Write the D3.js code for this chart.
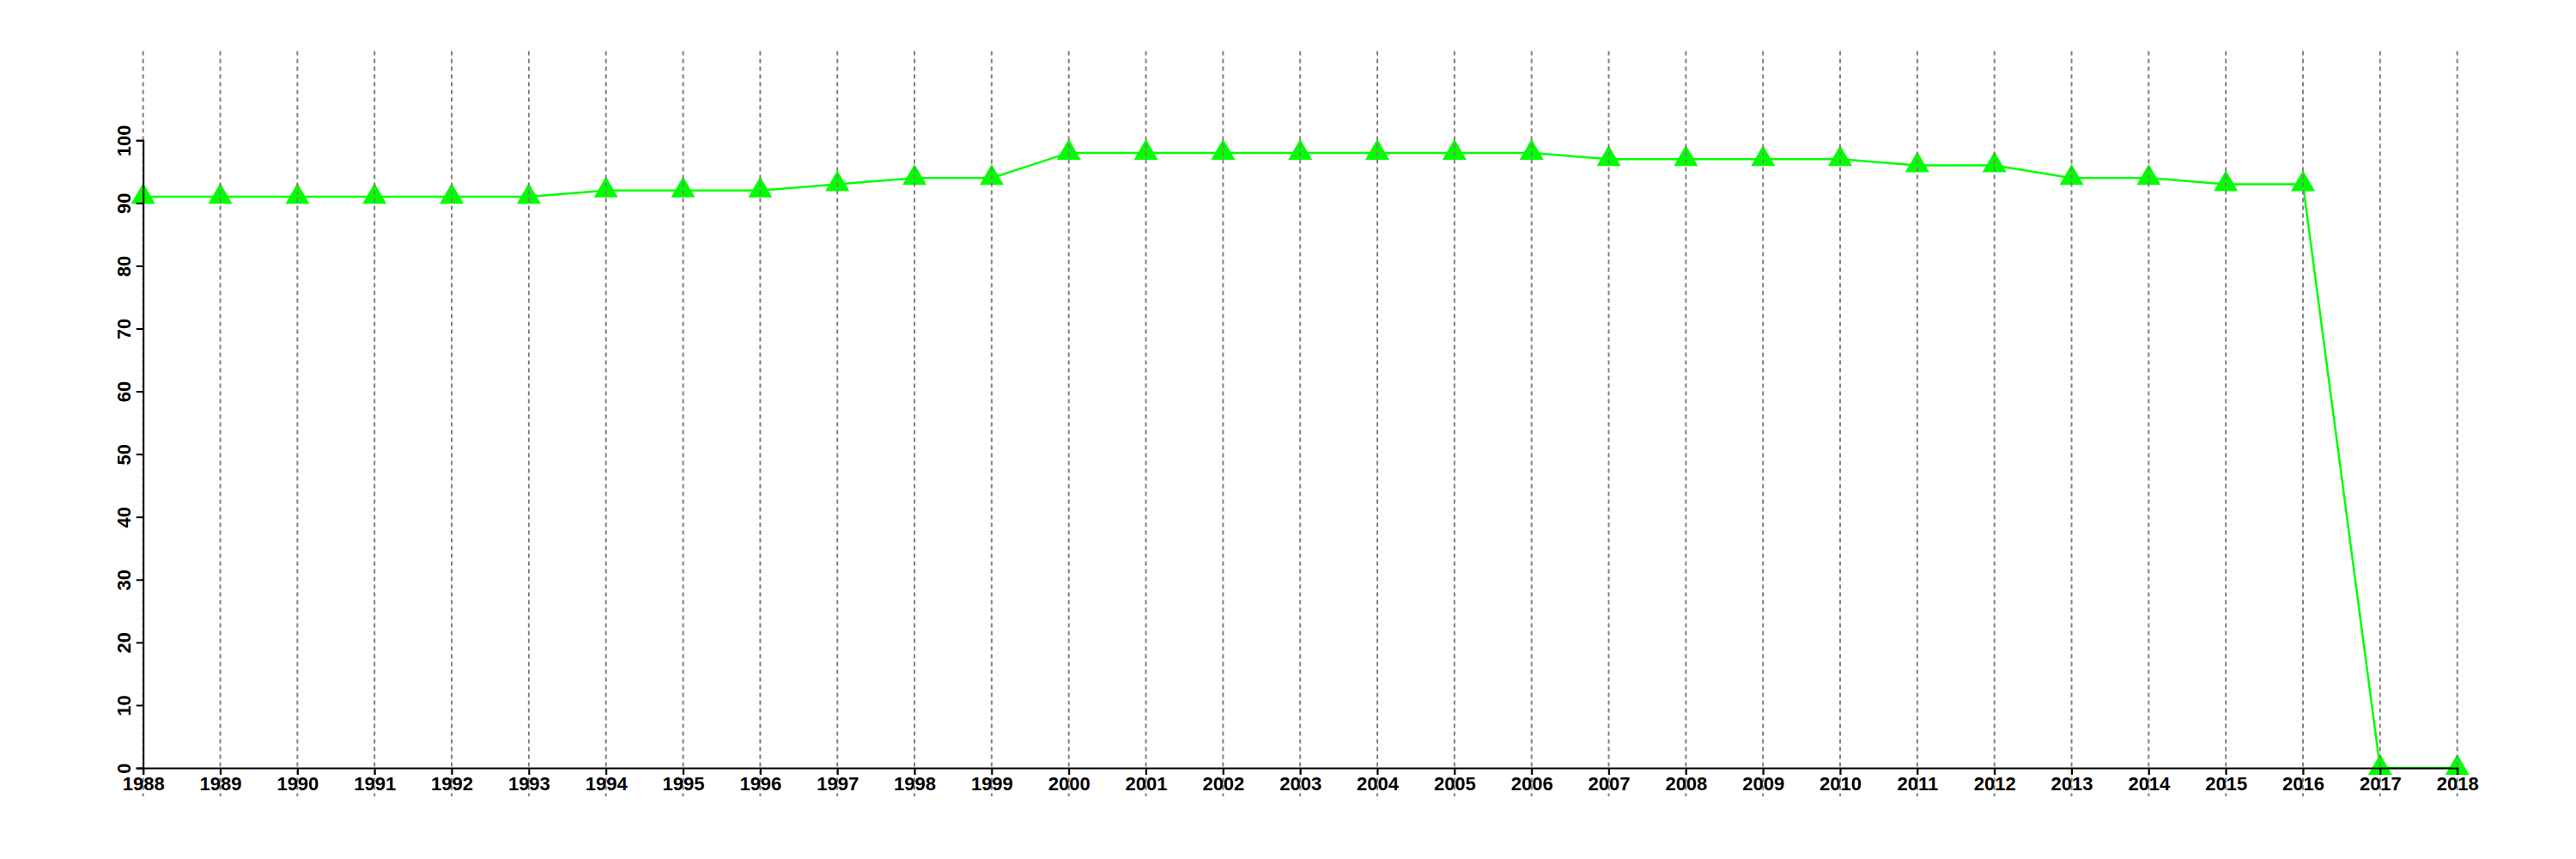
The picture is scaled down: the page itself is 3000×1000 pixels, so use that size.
<!DOCTYPE html>
<html>
<head>
<meta charset="utf-8">
<script src="https://cdn.jsdelivr.net/npm/d3@7"></script>
<style>
  html, body { margin: 0; padding: 0; background: #fff; }
  svg { display: block; }
  text { font-family: "Liberation Sans", Arial, Helvetica, sans-serif; font-weight: bold; font-size: 22px; fill: #000; }
</style>
</head>
<body>
<svg id="chart" width="3000" height="1000"></svg>
<script>
const years = [1988,1989,1990,1991,1992,1993,1994,1995,1996,1997,1998,1999,2000,2001,2002,2003,2004,2005,2006,2007,2008,2009,2010,2011,2012,2013,2014,2015,2016,2017,2018];
const values = [91,91,91,91,91,91,92,92,92,93,94,94,98,98,98,98,98,98,98,97,97,97,97,96,96,94,94,93,93,0,0];
const yTicks = [0,10,20,30,40,50,60,70,80,90,100];

const svg = d3.select("#chart");
const x = d3.scaleLinear().domain([1988, 2018]).range([166.7, 2861.7]);
const y = d3.scaleLinear().domain([0, 100]).range([894, 163.3]);

const data = years.map((yr, i) => ({ year: yr, value: values[i] }));

// line
svg.append("path")
  .datum(data)
  .attr("fill", "none")
  .attr("stroke", "#00ff00")
  .attr("stroke-width", 2.5)
  .attr("d", d3.line().x(d => x(d.year)).y(d => y(d.value)));

// markers
svg.append("g").selectAll("path")
  .data(data)
  .join("path")
  .attr("transform", d => `translate(${x(d.year)},${y(d.value)})`)
  .attr("d", d3.symbol(d3.symbolTriangle, 340))
  .attr("fill", "#00ff00");

// vertical dotted gridlines
svg.append("g").selectAll("line")
  .data(years)
  .join("line")
  .attr("x1", d => x(d)).attr("x2", d => x(d))
  .attr("y1", y(114.2)).attr("y2", y(-4.5))
  .attr("stroke", "#808080")
  .attr("stroke-width", 2)
  .attr("stroke-dasharray", "5,4");

// x axis
const xAxis = d3.axisBottom(x)
  .tickValues(years)
  .tickFormat(d3.format("d"))
  .tickSize(8)
  .tickPadding(4);
const gx = svg.append("g").attr("transform", `translate(0,${y(0)})`).call(xAxis);
gx.select(".domain").attr("stroke", "#000").attr("stroke-width", 2);
gx.selectAll(".tick line").attr("stroke", "#000").attr("stroke-width", 2);
gx.selectAll(".tick text")
  .attr("y", 26).attr("dy", null)
  .style("font-family", '"Liberation Sans", Arial, sans-serif')
  .style("font-weight", "bold").style("font-size", "22px").attr("fill", "#000");
gx.attr("font-family", null).attr("font-size", null);

// y axis
const yAxis = d3.axisLeft(y)
  .tickValues(yTicks)
  .tickSize(8)
  .tickFormat(d3.format("d"));
const gy = svg.append("g").attr("transform", `translate(${x(1988)},0)`).call(yAxis);
gy.select(".domain").attr("stroke", "#000").attr("stroke-width", 2);
gy.selectAll(".tick line").attr("stroke", "#000").attr("stroke-width", 2);
gy.selectAll(".tick text")
  .attr("x", null).attr("dy", null)
  .attr("text-anchor", "middle")
  .attr("transform", "translate(-15,0) rotate(-90)")
  .style("font-family", '"Liberation Sans", Arial, sans-serif')
  .style("font-weight", "bold").style("font-size", "22px").attr("fill", "#000");
gy.attr("font-family", null).attr("font-size", null);
</script>
</body>
</html>
